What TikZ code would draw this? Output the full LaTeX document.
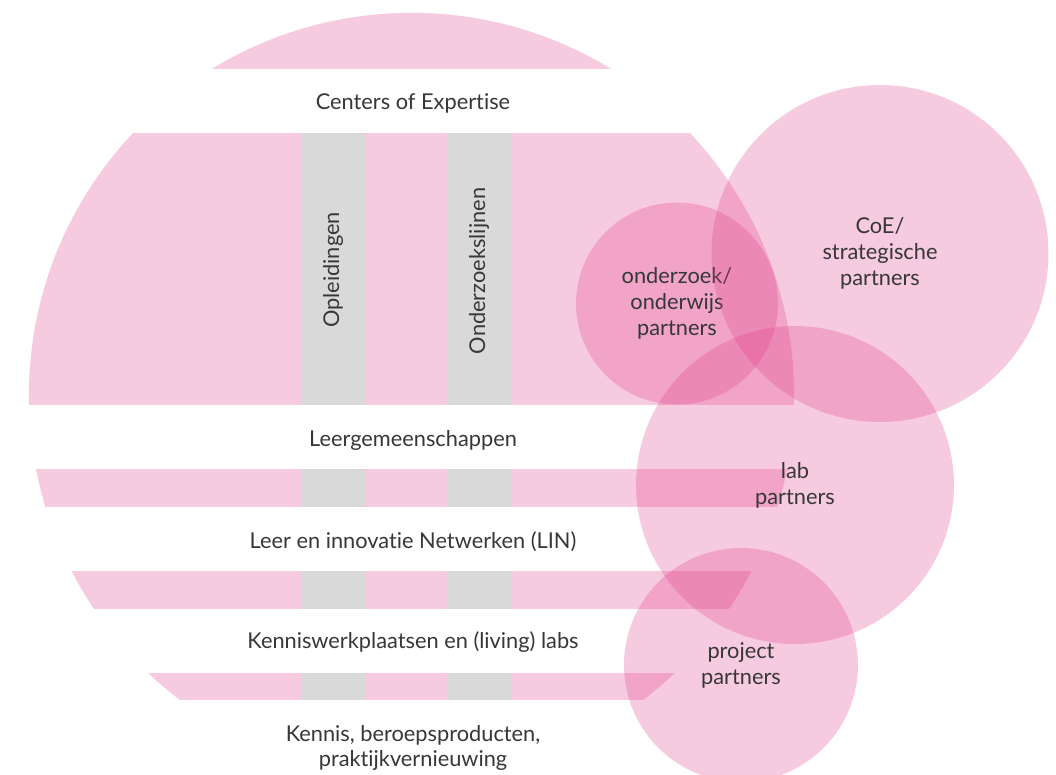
\documentclass[tikz,border=0pt]{standalone}
\usepackage{fontspec}
\setmainfont{Lato}[Ligatures=NoCommon]
\definecolor{roze}{RGB}{225,62,137}
\definecolor{grijs}{RGB}{217,217,217}
\definecolor{tekst}{RGB}{55,55,55}
\begin{document}
\begin{tikzpicture}[x=0.02cm,y=-0.02cm]
    \fill[white] (0,0) rectangle (1056,775);
    \useasboundingbox (0,0) rectangle (1056,775);
    \fill[roze!27] (411.5,395.4) circle (382.6);
    \fill[grijs] (301,133) rectangle (365,700);
    \fill[grijs] (447,133) rectangle (511,700);
    \foreach \a/\b in {69/133,405/469,507/571,609/673,700/775}
      \fill[white] (0,\a) rectangle (800,\b);
    \begin{scope}[every node/.style={text=tekst,align=center,font=\fontsize{12.4}{14.7}\selectfont}]
      \node (coe) at (413,103) {Centers of Expertise};
      \node[rotate=90] (opl) at (333,270) {Opleidingen};
      \node[rotate=90] (ozl) at (479,271) {Onderzoekslijnen};
      \node (lgm) at (413,440) {Leergemeenschappen};
      \node (lin) at (413,542) {Leer en innovatie Netwerken (LIN)};
      \node (kwp) at (413,642) {Kenniswerkplaatsen en (living) labs};
      \node (kbp) at (413,748) {Kennis, beroepsproducten,\\praktijkvernieuwing};
    \end{scope}
    \begin{scope}[every node/.style={circle,fill=roze,fill opacity=.27,text opacity=1,text=tekst,
        inner sep=0pt,outer sep=0pt,align=center,font=\fontsize{12.4}{14.7}\selectfont}]
      \node[minimum size=4.04cm] (oop) at (677,303.5) {onderzoek/\\onderwijs\\partners};
      \node[minimum size=6.74cm] (sp) at (880,253.5) {CoE/\\strategische\\partners};
      \node[minimum size=6.36cm] (lp) at (795,485) {lab\\partners};
      \node[minimum size=4.68cm] (pp) at (741,665) {project\\partners};
    \end{scope}
  \end{tikzpicture}
\end{document}
